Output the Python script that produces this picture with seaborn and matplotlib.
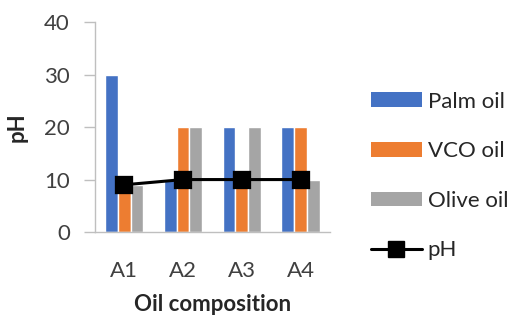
import matplotlib
matplotlib.use("Agg")
import matplotlib.pyplot as plt
import seaborn as sns
import pandas as pd
from matplotlib.lines import Line2D
from matplotlib.patches import Patch

categories = ["A1", "A2", "A3", "A4"]
palm_oil = [30, 10, 20, 20]
vco_oil = [9, 20, 10, 20]
olive_oil = [9, 20, 20, 10]
ph_values = [9, 10, 10, 10]
series_names = ["Palm oil", "VCO oil", "Olive oil"]
colors = ["#4472C4", "#ED7D31", "#A5A5A5"]
y_ticks = [0, 10, 20, 30, 40]

sns.set_style("white")
plt.rcParams['font.family'] = ['Lato', 'DejaVu Sans']
FS = 16

rows = []
for name, vals in zip(series_names, [palm_oil, vco_oil, olive_oil]):
    for c, v in zip(categories, vals):
        rows.append({"cat": c, "series": name, "value": v})
df = pd.DataFrame(rows)
df_ph = pd.DataFrame({"cat": categories, "pH": ph_values})

fig = plt.figure(figsize=(5.18, 3.25), dpi=100)
ax = fig.add_axes([0.183, 0.286, 0.454, 0.646])

sns.barplot(data=df, x="cat", y="value", hue="series", palette=colors,
            width=0.65, gap=0, saturation=1, ax=ax, legend=False, errorbar=None)
sns.pointplot(data=df_ph, x="cat", y="pH", color="black", markers="s",
              markersize=11, linewidth=2.2, ax=ax, errorbar=None)

ax.set_ylim(0, 40)
ax.set_xlim(-0.5, 3.5)
ax.set_yticks(y_ticks)
ax.set_yticklabels([str(t) for t in y_ticks], fontsize=FS, color="#404040")
ax.set_xticks(range(len(categories)))
ax.set_xticklabels(categories, fontsize=FS, color="#404040")
ax.set_xticks([i - 0.5 for i in range(len(categories) + 1)], minor=True)
ax.tick_params(axis="x", which="major", length=0, pad=21)
ax.tick_params(axis="x", which="minor", length=8, color="#BFBFBF", width=1)
ax.tick_params(axis="y", which="major", length=8, color="#BFBFBF", width=1, pad=10, left=True)

for s in ["top", "right"]:
    ax.spines[s].set_visible(False)
for s in ["left", "bottom"]:
    ax.spines[s].set_color("#BFBFBF")
    ax.spines[s].set_linewidth(1)

ax.set_xlabel("Oil composition", fontsize=FS, fontweight="bold", labelpad=9)
ax.set_ylabel("pH", fontsize=FS, fontweight="bold", labelpad=12)

handles = [Patch(facecolor=c, edgecolor="none") for c in colors]
handles.append(Line2D([0], [0], color="black", lw=2.2, marker="s", markersize=11))
labels = series_names + ["pH"]
fig.legend(handles, labels, loc="upper left", bbox_to_anchor=(0.716, 0.718),
           frameon=False, fontsize=FS, handlelength=2.3, handleheight=0.65,
           handletextpad=0.25, labelspacing=1.33, borderpad=0, borderaxespad=0,
           labelcolor="#262626")

fig.savefig("out.png", dpi=100)
